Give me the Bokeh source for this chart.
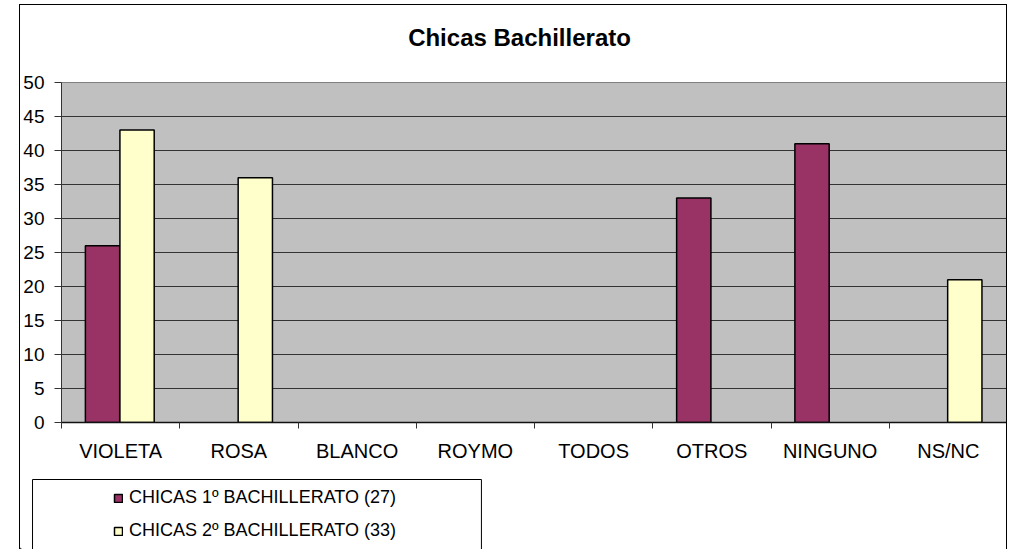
from bokeh.plotting import figure
from bokeh.layouts import column
from bokeh.models import (ColumnDataSource, Range1d, LinearAxis, Div,
                          FixedTicker, Legend, LegendItem)
from bokeh.embed import file_html
from bokeh.resources import INLINE

# ---- data ----
categories = ["VIOLETA", "ROSA", "BLANCO", "ROYMO", "TODOS", "OTROS", "NINGUNO", "NS/NC"]
primero = [26, 0, 0, 0, 0, 33, 41, 0]
segundo = [43, 36, 0, 0, 0, 0, 0, 21]
series_names = ["CHICAS 1º BACHILLERATO (27)", "CHICAS 2º BACHILLERATO (33)"]
y_ticks = [0, 5, 10, 15, 20, 25, 30, 35, 40, 45, 50]
title_text = "Chicas Bachillerato"

FONT = "Liberation Sans"
colors = ["#993366", "#FFFFCC"]
n = len(categories)

# ---------------- title strip ----------------
title_div = Div(text=title_text, width=988, height=56, margin=(4, 0, 0, 19),
                styles={"border-top": "1px solid black", "border-left": "1px solid black",
                        "border-right": "1px solid black", "box-sizing": "border-box",
                        "background": "white", "font-family": FONT, "font-size": "24px",
                        "font-weight": "bold", "color": "black", "text-align": "center",
                        "padding-top": "19px", "padding-left": "13px",
                        "line-height": "28px"})

# ---------------- main chart ----------------
p = figure(x_range=Range1d(0, n), y_range=Range1d(0, 50),
           width=988, height=410, output_backend="svg", toolbar_location=None,
           x_axis_location=None, min_border_left=39, min_border_right=1,
           min_border_top=22, min_border_bottom=48)
p.margin = (0, 0, 0, 19)
p.styles = {"border-left": "1px solid black", "border-right": "1px solid black"}
p.title.visible = False

p.background_fill_color = "#C0C0C0"
p.border_fill_color = "white"
p.outline_line_color = "#808080"

p.yaxis.ticker = FixedTicker(ticks=y_ticks)
p.yaxis.major_label_text_font = FONT
p.yaxis.major_label_text_font_size = "19px"
p.yaxis.major_label_text_color = "black"
p.yaxis.major_tick_out = 7
p.yaxis.major_tick_in = 0
p.yaxis.minor_tick_line_color = None
p.yaxis.axis_line_color = "#333333"
p.yaxis.major_tick_line_color = "#333333"
p.yaxis.major_label_standoff = 10

p.ygrid.ticker = FixedTicker(ticks=y_ticks)
p.ygrid.grid_line_color = "#333333"
p.ygrid.grid_line_width = 1
p.xgrid.visible = False

tick_axis = LinearAxis(ticker=FixedTicker(ticks=list(range(n + 1))),
                       major_tick_out=6, major_tick_in=0, minor_tick_line_color=None,
                       major_label_text_font_size="1px", major_label_text_alpha=0,
                       major_label_standoff=0, axis_line_color="#111111", axis_line_width=1.5,
                       major_tick_line_color="#333333")
centers = [i + 0.5 for i in range(n)]
cat_axis = LinearAxis(ticker=FixedTicker(ticks=centers),
                      major_label_overrides={c: lab for c, lab in zip(centers, categories)},
                      major_tick_line_color=None, axis_line_color=None,
                      minor_tick_line_color=None,
                      major_label_text_font=FONT, major_label_text_font_size="20px",
                      major_label_text_color="black", major_label_standoff=5)
p.add_layout(tick_axis, "below")
p.add_layout(cat_axis, "below")

def nonzero(vals, shift):
    xs = [i + 0.5 + shift for i, v in enumerate(vals) if v]
    tops = [v for v in vals if v]
    return ColumnDataSource(dict(x=xs, top=tops))

src1 = nonzero(primero, -0.153)
src2 = nonzero(segundo, 0.139)
p.vbar(x="x", top="top", width=0.29, source=src1,
       fill_color=colors[0], line_color="black", line_width=1.5)
p.vbar(x="x", top="top", width=0.29, source=src2,
       fill_color=colors[1], line_color="black", line_width=1.5)

# ---------------- legend strip ----------------
QW, QH = 986, 79
q = figure(x_range=Range1d(0, QW), y_range=Range1d(0, QH),
           width=988, height=QH, output_backend="svg", toolbar_location=None,
           x_axis_location=None, y_axis_location=None,
           min_border_left=0, min_border_right=0, min_border_top=0, min_border_bottom=0)
q.margin = (0, 0, 0, 19)
q.styles = {"border-left": "1px solid black", "border-right": "1px solid black"}
q.grid.visible = False
q.outline_line_color = None
q.background_fill_color = "white"
q.border_fill_color = "white"
for fig in (p, q):
    if hasattr(fig, "frame_align"):
        fig.frame_align = False

# legend frame (runs past the bottom edge, as in the original)
q.quad(left=[12], right=[460], top=[QH - 9], bottom=[-30],
       fill_color=None, line_color="black", line_width=1)

# off-screen proxies carrying the series styles for the legend swatches
lr1 = q.vbar(x=[-500], top=[1], width=1, fill_color=colors[0], line_color="black", line_width=1.5)
lr2 = q.vbar(x=[-500], top=[1], width=1, fill_color=colors[1], line_color="black", line_width=1.5)

legend = Legend(items=[LegendItem(label=series_names[0], renderers=[lr1]),
                       LegendItem(label=series_names[1], renderers=[lr2])],
                location=(93, QH - 71), padding=0, spacing=12, label_height=20,
                glyph_width=10, glyph_height=10, label_standoff=6,
                border_line_color=None, background_fill_alpha=0,
                label_text_font=FONT, label_text_font_size="18px",
                label_text_color="black", margin=0)
q.add_layout(legend)

root = column(title_div, p, q)
open("out.html", "w").write(file_html(root, INLINE))
